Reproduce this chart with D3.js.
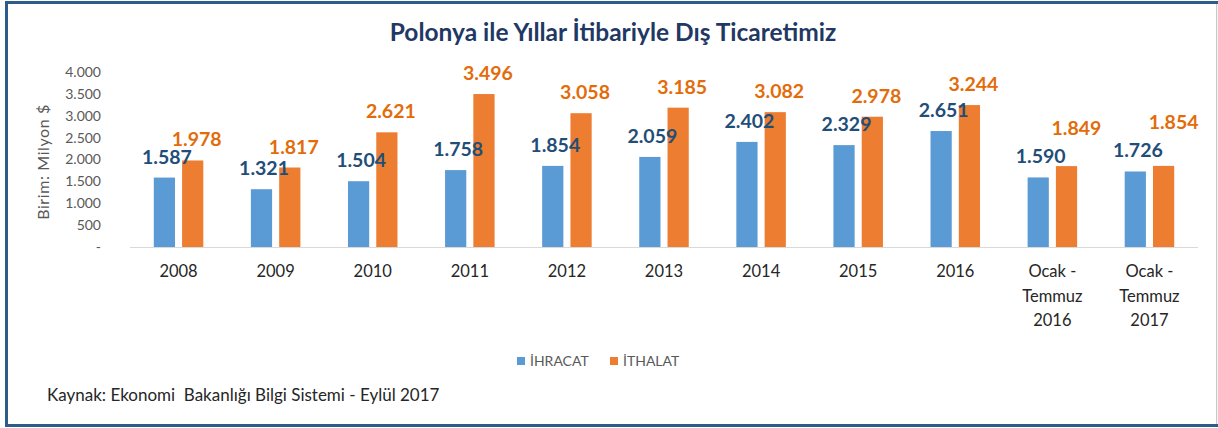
<!DOCTYPE html>
<html><head><meta charset="utf-8">
<script src="https://cdn.jsdelivr.net/npm/d3@7"></script>
<style>body{margin:0;background:#fff}svg{display:block}</style>
</head><body>
<svg id="c" width="1218" height="428"></svg>
<script>
const categories = ["2008","2009","2010","2011","2012","2013","2014","2015","2016","Ocak - Temmuz 2016","Ocak - Temmuz 2017"];
const categoryLines = [["2008"],["2009"],["2010"],["2011"],["2012"],["2013"],["2014"],["2015"],["2016"],["Ocak -","Temmuz","2016"],["Ocak -","Temmuz","2017"]];
const ihracat = [1587,1321,1504,1758,1854,2059,2402,2329,2651,1590,1726];
const ithalat = [1978,1817,2621,3496,3058,3185,3082,2978,3244,1849,1854];
const yTicks = [0,500,1000,1500,2000,2500,3000,3500,4000];
const seriesNames = ["İHRACAT","İTHALAT"];
const title = "Polonya ile Yıllar İtibariyle Dış Ticaretimiz";
const yTitle = "Birim: Milyon $";
const source = "Kaynak: Ekonomi  Bakanlığı Bilgi Sistemi - Eylül 2017";

const FONT = "Lato, 'Open Sans', sans-serif";
const colors = ["#5b9bd5","#ed7d31"];
const labelColors = ["#1f4e79","#e36c0a"];
const loc = d3.formatLocale({decimal:",",thousands:".",grouping:[3],currency:["","$"]});
const fmt = loc.format(",d");

const svg = d3.select("#c");
const W = 1218, H = 428;
// frame
svg.append("rect").attr("x",0).attr("y",0).attr("width",W).attr("height",H).attr("fill","#fff");
svg.append("rect").attr("x",5).attr("y",1).attr("width",W-5).attr("height",3).attr("fill","#2e5c8a");
svg.append("rect").attr("x",5).attr("y",1).attr("width",3).attr("height",H-2).attr("fill","#2e5c8a");
svg.append("rect").attr("x",5).attr("y",H-4).attr("width",W-5).attr("height",3).attr("fill","#2e5c8a");
svg.append("rect").attr("x",W-2).attr("y",4).attr("width",1.2).attr("height",H-8).attr("fill","#c8c8c8");

const pLeft = 130, pRight = 1198, pTop = 72, pBottom = 247;
const x0 = d3.scaleBand().domain(categories).range([pLeft,pRight]).paddingInner(0.49).paddingOuter(0.245);
const x1 = d3.scaleBand().domain(seriesNames).range([0,x0.bandwidth()]).paddingInner(0.25);
const y = d3.scaleLinear().domain([0,4000]).range([pBottom,pTop]);

svg.append("text").attr("x",613).attr("y",41).attr("text-anchor","middle")
  .attr("font-family",FONT).attr("font-weight","bold").attr("font-size",24.5).attr("fill","#1f3864").text(title);

// y axis
const yAxis = d3.axisLeft(y).tickValues(yTicks).tickSize(0).tickPadding(0).tickFormat(d=>d===0?"-":fmt(d));
const gy = svg.append("g").attr("transform",`translate(101,0)`).call(yAxis);
gy.select(".domain").remove();
gy.selectAll("text").attr("font-family",FONT).attr("font-size",14).attr("fill","#595959");

svg.append("text").attr("transform",`translate(49,162) rotate(-90)`).attr("text-anchor","middle")
  .attr("font-family",FONT).attr("font-size",16).attr("letter-spacing",0.6).attr("fill","#595959").text(yTitle);

// baseline
svg.append("line").attr("x1",pLeft).attr("x2",pRight).attr("y1",pBottom+0.5).attr("y2",pBottom+0.5).attr("stroke","#d9d9d9").attr("stroke-width",1);

const data = categories.map((c,i)=>({c, vals:[ihracat[i],ithalat[i]]}));
const groups = svg.append("g").selectAll("g").data(data).join("g").attr("transform",d=>`translate(${x0(d.c)},0)`);
groups.selectAll("rect").data(d=>d.vals.map((v,k)=>({v,k}))).join("rect")
  .attr("x",d=>x1(seriesNames[d.k])).attr("width",x1.bandwidth())
  .attr("y",d=>y(d.v)).attr("height",d=>pBottom-y(d.v)).attr("fill",d=>colors[d.k]);

// labels with simple collision avoidance (orange label lifted above blue label if too close)
groups.each(function(d){
  const g = d3.select(this);
  const by = y(d.vals[0]) - 14;
  let oy = y(d.vals[1]) - 14;
  let odx = 4;
  if (oy > by - 15) { oy = by - 28; odx = 10; }
  const pos = [{x:x1(seriesNames[0])+x1.bandwidth()/2+2.5, y:by},{x:x1(seriesNames[1])+x1.bandwidth()/2+odx, y:oy}];
  g.selectAll("text.lbl").data(d.vals.map((v,k)=>({v,k}))).join("text").attr("class","lbl")
    .attr("x",e=>pos[e.k].x).attr("y",e=>pos[e.k].y)
    .attr("text-anchor","middle").attr("font-family",FONT).attr("font-weight","bold").attr("font-size",19.5)
    .attr("fill",e=>labelColors[e.k]).text(e=>fmt(e.v));
});

// x labels
const xl = svg.append("g").selectAll("text").data(categories).join("text")
  .attr("x",d=>x0(d)+x0.bandwidth()/2).attr("y",277).attr("text-anchor","middle")
  .attr("font-family",FONT).attr("font-size",16.5).attr("fill","#262626");
xl.each(function(d,i){
  d3.select(this).selectAll("tspan").data(categoryLines[i]).join("tspan")
    .attr("x",x0(d)+x0.bandwidth()/2).attr("dy",(t,j)=>j===0?0:24.5).text(t=>t);
});

// legend
const leg = [{x:521,n:0},{x:614,n:1}];
leg.forEach(l=>{
  svg.append("rect").attr("x",l.x-4).attr("y",357).attr("width",8).attr("height",8).attr("fill",colors[l.n]);
  svg.append("text").attr("x",l.x+9).attr("y",366).attr("font-family",FONT).attr("font-size",14).attr("fill","#595959").text(seriesNames[l.n]);
});

svg.append("text").attr("x",47).attr("y",401).attr("font-family",FONT).attr("font-size",17).attr("fill","#262626")
  .attr("xml:space","preserve").style("white-space","pre").text(source);
</script>
</body></html>
